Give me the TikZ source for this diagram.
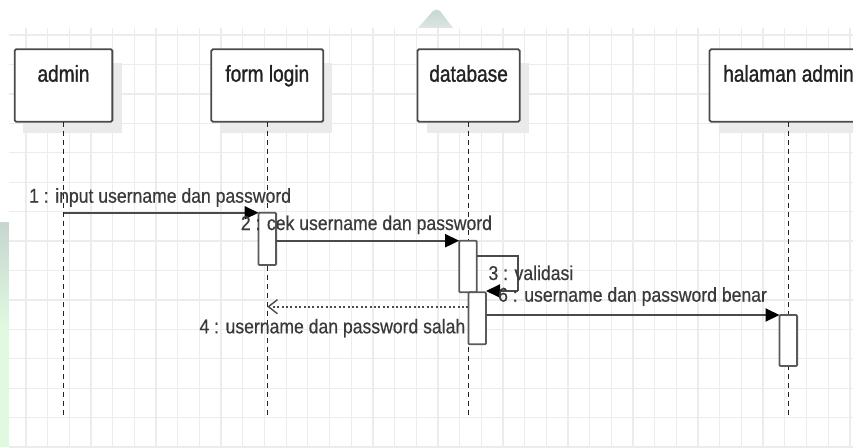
\documentclass[tikz,border=0pt]{standalone}
\usepackage{fontspec}
\setmainfont{Liberation Sans}
\newfontfamily\titlefont[FakeStretch=0.83,FakeBold=1.2]{Liberation Sans}
\newfontfamily\msgfont[FakeStretch=0.88,FakeBold=0.5]{Liberation Sans}
\usetikzlibrary{arrows.meta}

\definecolor{gridc}{HTML}{ECECEC}
\definecolor{edgec}{HTML}{4A4A4A}
\definecolor{actc}{HTML}{5A5A5A}
\definecolor{inkc}{HTML}{3A3A3A}
\definecolor{titlec}{HTML}{222222}
\definecolor{shadowc}{HTML}{EAEAEA}
\definecolor{wmarktop}{HTML}{C6D6D0}
\definecolor{wmarklow}{HTML}{DCE6E2}
\definecolor{wmarkgreen}{HTML}{E0FAE0}

\tikzset{
  gridline/.style={draw=gridc, line width=1.3pt},
  lifebox/.style={draw=edgec, line width=1.8pt, fill=white, rounded corners=1.5pt,
    minimum width=#1, minimum height=72.4pt, inner sep=0pt, outer sep=0pt},
  boxshadow/.style={fill=shadowc},
  lifeline/.style={draw=titlec, line width=1.4pt, dash pattern=on 5pt off 4pt},
  activation/.style={draw=actc, line width=1.8pt, fill=white, rounded corners=1pt,
    minimum width=17.6pt, minimum height=#1, inner sep=0pt, outer sep=0pt},
  msg/.style={draw=edgec, line width=1.9pt, -{Triangle[length=14pt,width=13pt,color=black]}},
  reply/.style={draw=edgec, line width=1.8pt, dash pattern=on 2pt off 2.4pt,
    -{Straight Barb[length=9pt,width=14pt,line width=1.4pt]}},
  title/.style={font=\titlefont\fontsize{23}{27}\selectfont, text=titlec, anchor=base, inner sep=0pt},
  msglabel/.style={font=\msgfont\fontsize{20}{24}\selectfont, text=inkc, anchor=base west, inner sep=0pt},
}

\begin{document}
\begin{tikzpicture}[x=1pt, y=-1pt]
  \clip (0,0) rectangle (853,447);

  % faint marks of the page underneath
  \fill[white] (0,0) rectangle (853,447);
  \shade[top color=wmarktop, bottom color=wmarklow]
    (418,28) -- (433,11) to[out=45,in=135] (440,11) -- (453,28) -- cycle;
  \shade[top color=wmarktop, bottom color=wmarkgreen] (0,222) rectangle (9,330);
  \fill[wmarkgreen] (0,329) rectangle (9,447);

  % drawing sheet with grid
  \fill[white] (9,28) rectangle (853,447);
  \foreach \k in {0,...,38} \draw[gridline] ({26+21.68*\k},28) -- ({26+21.68*\k},447);
  \foreach \k in {0,...,14} \draw[gridline] (9,{35+29.43*\k}) -- (853,{35+29.43*\k});

  % shadows of the participant boxes
  \fill[boxshadow] (23,63) rectangle (121.5,133);
  \fill[boxshadow] (220,63) rectangle (332,133);
  \fill[boxshadow] (427,63) rectangle (529,133);
  \fill[boxshadow] (719,63) rectangle (877,133);

  % participants
  \node[lifebox=97.7pt]  (admin)   at (63.5,85.5)  {};
  \node[lifebox=112pt]   (flogin)  at (267.3,85.5) {};
  \node[lifebox=102.3pt] (db)      at (468.6,85.5) {};
  \node[lifebox=158pt]   (hadmin)  at (788.5,85.5) {};

  \node[title] (admin-t)  at (admin.north  |- 0,81.7) {admin};
  \node[title] (flogin-t) at (flogin.north |- 0,81.7) {form login};
  \node[title] (db-t)     at (db.north     |- 0,81.7) {database};
  \node[title] (hadmin-t) at (hadmin.north |- 0,81.7) {halaman admin};

  % lifelines
  \coordinate (admin-end)  at (admin.south  |- 0,416);
  \coordinate (flogin-end) at (flogin.south |- 0,416);
  \coordinate (db-end)     at (db.south     |- 0,416);
  \coordinate (hadmin-end) at (hadmin.south |- 0,416);
  \draw[lifeline] (admin.south)  -- (admin-end);
  \draw[lifeline] (flogin.south) -- (flogin-end);
  \draw[lifeline] (db.south)     -- (db-end);
  \draw[lifeline] (hadmin.south) -- (hadmin-end);

  % activation bars
  \node[activation=52.3pt] (flact) at (267.3,238.9) {};
  \node[activation=51.6pt] (dbact1) at (468,266.5) {};
  \node[activation=52pt]   (dbact2) at (477.2,318.3) {};
  \node[activation=51pt]   (haact) at (788.3,340.5) {};

  % messages
  \coordinate (m1s) at (admin.south |- flact.north west);
  \draw[msg] (m1s) -- (flact.north west);

  \draw[msg] (flact.east |- dbact1.north) -- (dbact1.north west);

  \coordinate (loop) at (518.3,256);
  \coordinate (loopb) at (518.3,291);
  \draw[draw=edgec, line width=1.9pt] (dbact1.east |- loop) -- (loop) -- (loopb);
  \draw[msg] (loopb) -- (dbact2.east |- loopb);

  \coordinate (m4s) at (dbact2.west |- 0,306.7);
  \coordinate (m4e) at (flogin.south |- 0,306.7);
  \draw[reply] (m4s) -- (m4e);

  \draw[msg] (dbact2.east |- haact.north) -- (haact.north west);

  % message labels
  \node[msglabel] (l1) at (29,202.7)    {1 : input username dan password};
  \node[msglabel] (l2) at (240.7,230)   {2 : cek username dan password};
  \node[msglabel] (l3) at (488.3,280)   {3 : validasi};
  \node[msglabel] (l4) at (199.3,333.3) {4 : username dan password salah};
  \node[msglabel] (l5) at (498,301.7)   {6 : username dan password benar};
\end{tikzpicture}
\end{document}
